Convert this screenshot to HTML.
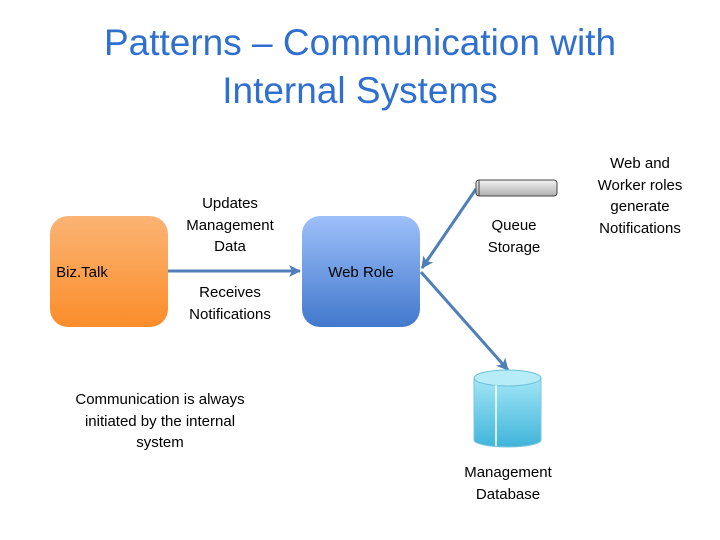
<!DOCTYPE html>
<html><head><style>
body{margin:0;width:720px;height:540px;background:#fff;position:relative;overflow:hidden;font-family:"Liberation Sans",sans-serif;}
.t{position:absolute;text-align:center;color:#000;font-size:15px;line-height:21.5px;}
</style></head><body>
<div class="t" style="left:0;width:720px;top:19px;font-size:37px;line-height:48px;color:#2f6fd0;">Patterns – Communication with<br>Internal Systems</div>
<svg width="720" height="540" style="position:absolute;left:0;top:0">
<defs>
<linearGradient id="o" x1="0" y1="0" x2="0" y2="1"><stop offset="0" stop-color="#fbb474"/><stop offset="1" stop-color="#fb8d2a"/></linearGradient>
<linearGradient id="b" x1="0" y1="0" x2="0" y2="1"><stop offset="0" stop-color="#9ec0fa"/><stop offset="1" stop-color="#4278cc"/></linearGradient>
<linearGradient id="q" x1="0" y1="0" x2="0" y2="1"><stop offset="0" stop-color="#f2f2f2"/><stop offset="1" stop-color="#b0b0b0"/></linearGradient>
<linearGradient id="c" x1="0" y1="0" x2="0" y2="1"><stop offset="0" stop-color="#a2e6f6"/><stop offset="1" stop-color="#40b4da"/></linearGradient>
<marker id="a" markerWidth="12" markerHeight="12" refX="11" refY="6" orient="auto" markerUnits="userSpaceOnUse"><path d="M0,0 L12,6 L0,12 L3,6 Z" fill="#4f7fb8"/></marker>
</defs>
<rect x="50" y="216" width="118" height="111" rx="18" fill="url(#o)"/>
<rect x="302" y="216" width="118" height="111" rx="18" fill="url(#b)"/>
<line x1="168" y1="271" x2="300" y2="271" stroke="#4f7fb8" stroke-width="3" marker-end="url(#a)"/>
<line x1="476" y1="189" x2="422" y2="268" stroke="#4f7fb8" stroke-width="3" marker-end="url(#a)"/>
<line x1="421" y1="272" x2="508" y2="370" stroke="#4f7fb8" stroke-width="3" marker-end="url(#a)"/>
<rect x="476" y="180" width="81" height="16" rx="3" fill="url(#q)" stroke="#444" stroke-width="1"/>
<line x1="479" y1="180" x2="479" y2="196" stroke="#444"/>
<path d="M474,378 L474,440 A33.5,7 0 0 0 541,440 L541,378 Z" fill="url(#c)" stroke="#7fc6dd"/>
<ellipse cx="507.5" cy="378" rx="33.5" ry="8" fill="#b6ecf8" stroke="#6cc0da"/>
<line x1="496" y1="385" x2="496" y2="446" stroke="#fff" stroke-width="1.5"/>
</svg>
<div class="t" style="left:50px;width:64px;top:262px;">Biz.Talk</div>
<div class="t" style="left:302px;width:118px;top:262px;">Web Role</div>
<div class="t" style="left:170px;width:120px;top:193px;">Updates<br>Management<br>Data</div>
<div class="t" style="left:170px;width:120px;top:282px;">Receives<br>Notifications</div>
<div class="t" style="left:464px;width:100px;top:215px;">Queue<br>Storage</div>
<div class="t" style="left:580px;width:120px;top:153px;">Web and<br>Worker roles<br>generate<br>Notifications</div>
<div class="t" style="left:50px;width:220px;top:389px;">Communication is always<br>initiated by the internal<br>system</div>
<div class="t" style="left:448px;width:120px;top:462px;">Management<br>Database</div>
</body></html>
